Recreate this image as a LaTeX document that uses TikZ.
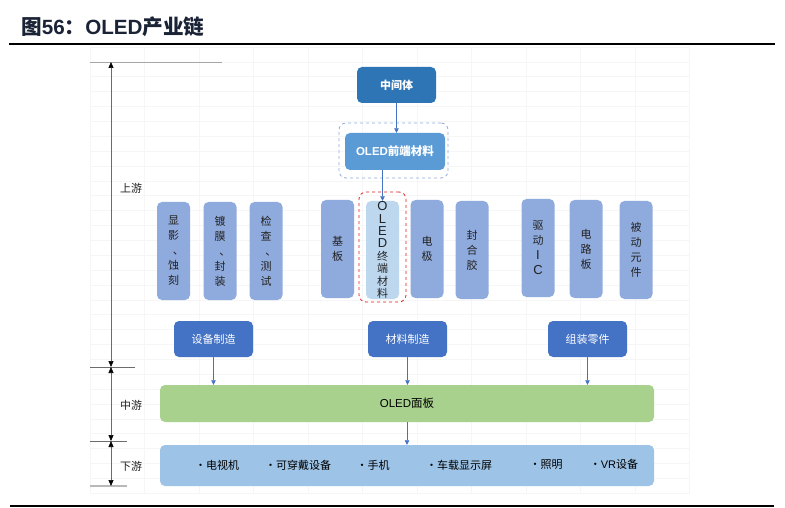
\documentclass[tikz,border=0pt]{standalone}
\usepackage{fontspec}
\setmainfont{Liberation Sans}
\newfontfamily\cjk{Noto Sans CJK SC}
\usetikzlibrary{arrows.meta}
\definecolor{cDark}{HTML}{2E75B6}
\definecolor{cMid}{HTML}{5B9BD5}
\definecolor{cSide}{HTML}{8FAADC}
\definecolor{cTerm}{HTML}{BDD7EE}
\definecolor{cMfg}{HTML}{4472C4}
\definecolor{cGreen}{HTML}{A9D18E}
\definecolor{cApps}{HTML}{9DC3E6}
\definecolor{cArrow}{HTML}{4472C4}
\definecolor{cDash}{HTML}{8FAADC}
\definecolor{cRed}{HTML}{E02020}
\definecolor{cTitle}{HTML}{1B2437}
\definecolor{cGrid}{HTML}{F6F6F6}
\definecolor{cText}{HTML}{222222}
\newcommand{\dun}{\makebox[1em][l]{\hspace{0.45em}、}}
\newcommand{\tc}[1]{{\cjk\fontsize{11}{12.4}\selectfont #1}}
\tikzset{
  rbox/.style={rounded corners=5pt, draw=none, inner sep=0pt, align=center},
  topbox/.style={rbox, fill=cDark, minimum width=79pt, minimum height=36pt, text=white, font=\cjk\bfseries\fontsize{11}{13}\selectfont},
  frontbox/.style={rbox, fill=cMid, minimum width=100pt, minimum height=37pt, text=white, font=\bfseries\fontsize{11.5}{13}\selectfont},
  vbox/.style={rbox, fill=cSide, minimum width=33pt, minimum height=98pt, text=cText, font=\cjk\fontsize{11}{15}\selectfont},
  termbox/.style={rbox, fill=cTerm, minimum width=33pt, minimum height=98pt, text=cText, font=\fontsize{13}{12.4}\selectfont},
  mfgbox/.style={rbox, fill=cMfg, minimum width=79pt, minimum height=36pt, text=white, font=\cjk\fontsize{11}{13}\selectfont},
  widebox/.style={rbox, minimum width=494pt, text=black},
  dashbox/.style={rounded corners=7pt, dashed, line width=0.8pt, inner sep=0pt},
  tipk/.tip={Triangle[width=5pt,length=6pt,black]},
  arr/.style={draw=cArrow, line width=0.6pt, -{Triangle[width=4.5pt,length=4.5pt]}},
  axis/.style={draw=gray!85!black, line width=0.6pt, tipk-tipk},
  tick/.style={draw=gray!85!black, line width=0.7pt},
  lab/.style={font=\cjk\fontsize{11}{13}\selectfont, text=cText},
  item/.style={font=\cjk\fontsize{11}{13}\selectfont, text=black, inner sep=0pt},
}
\begin{document}
\begin{tikzpicture}[x=1pt,y=-1pt]
\useasboundingbox (0,0) rectangle (785,508);
\fill[white] (0,0) rectangle (785,508);
% faint grid
\foreach \i in {0,...,11} { \draw[cGrid, line width=0.5pt] (90+54.5*\i,47) -- (90+54.5*\i,493); }
\foreach \j in {0,...,30} { \draw[cGrid, line width=0.5pt] (90,47+14.87*\j) -- (690,47+14.87*\j); }
% title and rules
\node[anchor=west, inner sep=0pt, text=cTitle, font=\fontsize{20.6}{23}\selectfont\bfseries] (title) at (21,27) {{\cjk 图}56{\cjk ：}OLED{\cjk 产业链}};
\coordinate (r1a) at (9,44); \coordinate (r1b) at (775,44);
\draw[line width=1.2pt] (r1a) -- (r1b);
\coordinate (r2a) at (10,506); \coordinate (r2b) at (774,506);
\draw[line width=1.2pt] (r2a) -- (r2b);
% axis
\coordinate (a0) at (111,62); \coordinate (a1) at (111,367); \coordinate (a2) at (111,441); \coordinate (a3) at (111,486);
\coordinate (t0a) at (90,62); \coordinate (t0b) at (222,62);
\coordinate (t1a) at (90,367); \coordinate (t1b) at (135,367);
\coordinate (t2a) at (90,441); \coordinate (t2b) at (127,441);
\coordinate (t3a) at (90,486); \coordinate (t3b) at (127,486);
\draw[tick, gray!70] (t0a) -- (t0b);
\draw[tick] (t1a) -- (t1b);
\draw[tick] (t2a) -- (t2b);
\draw[tick, gray!55, line width=1.6pt] (t3a) -- (t3b);
\draw[axis] (a0) -- (a1);
\draw[axis] (a1) -- (a2);
\draw[axis] (a2) -- (a3);
\node[lab] (up) at (131,188) {上游};
\node[lab] (midl) at (131,405) {中游};
\node[lab] (down) at (131,466) {下游};
% dashed frames
\node[dashbox, draw=cDash, minimum width=109pt, minimum height=55pt] (frontdash) at (393.5,150.5) {};
\node[dashbox, draw=cRed, minimum width=47pt, minimum height=110pt] (termdash) at (382.5,247) {};
% top chain
\node[topbox] (mid) at (396.5,85) {中间体};
\node[frontbox] (front) at (395,151.5) {OLED{\cjk 前端材料}};
\node[termbox] (term) at (382.5,250) {O\\L\\E\\D\\\tc{终}\\\tc{端}\\\tc{材}\\\tc{料}};
\node[vbox] (sub) at (337.5,249) {基\\板};
\node[vbox] (elec) at (427,249) {电\\极};
\node[vbox] (seal) at (472,250) {封\\合\\胶};
% equipment
\node[vbox] (dev1) at (173.5,251) {显\\影\\\dun\\蚀\\刻};
\node[vbox] (dev2) at (220,251) {镀\\膜\\\dun\\封\\装};
\node[vbox] (dev3) at (266,251) {检\\查\\\dun\\测\\试};
% components
\node[vbox] (ic) at (538,248) {驱\\动\\{\fontspec{Liberation Sans}\fontsize{13}{15}\selectfont I}\\{\fontspec{Liberation Sans}\fontsize{13}{15}\selectfont C}};
\node[vbox] (pcb) at (586,249) {电\\路\\板};
\node[vbox] (pas) at (636,250) {被\\动\\元\\件};
% manufacturing
\node[mfgbox] (mfg1) at (213.5,339) {设备制造};
\node[mfgbox] (mfg2) at (407.5,339) {材料制造};
\node[mfgbox] (mfg3) at (587.5,339) {组装零件};
% panel and apps
\node[widebox, fill=cGreen, minimum height=37pt, font=\fontsize{11.5}{13}\selectfont] (panel) at (407,403.5) {OLED{\cjk 面板}};
\node[widebox, fill=cApps, minimum height=41pt] (apps) at (407,465.5) {};
\node[item] (ap1) at (217,465) {·电视机};
\node[item] (ap2) at (298,465) {·可穿戴设备};
\node[item] (ap3) at (373,465) {·手机};
\node[item] (ap4) at (459,465) {·车载显示屏};
\node[item] (ap5) at (546,465) {·照明};
\node[item] (ap6) at (614,464) {·{\fontspec{Liberation Sans}VR}设备};
% arrows
\draw[arr] (mid.south) -- (mid.south |- front.north);
\draw[arr] (term.north |- front.south) -- (term.north);
\draw[arr] (mfg1.south) -- (mfg1.south |- panel.north);
\draw[arr] (mfg2.south) -- (mfg2.south |- panel.north);
\draw[arr] (mfg3.south) -- (mfg3.south |- panel.north);
\draw[arr] (panel.south) -- (panel.south |- apps.north);
\end{tikzpicture}
\end{document}
